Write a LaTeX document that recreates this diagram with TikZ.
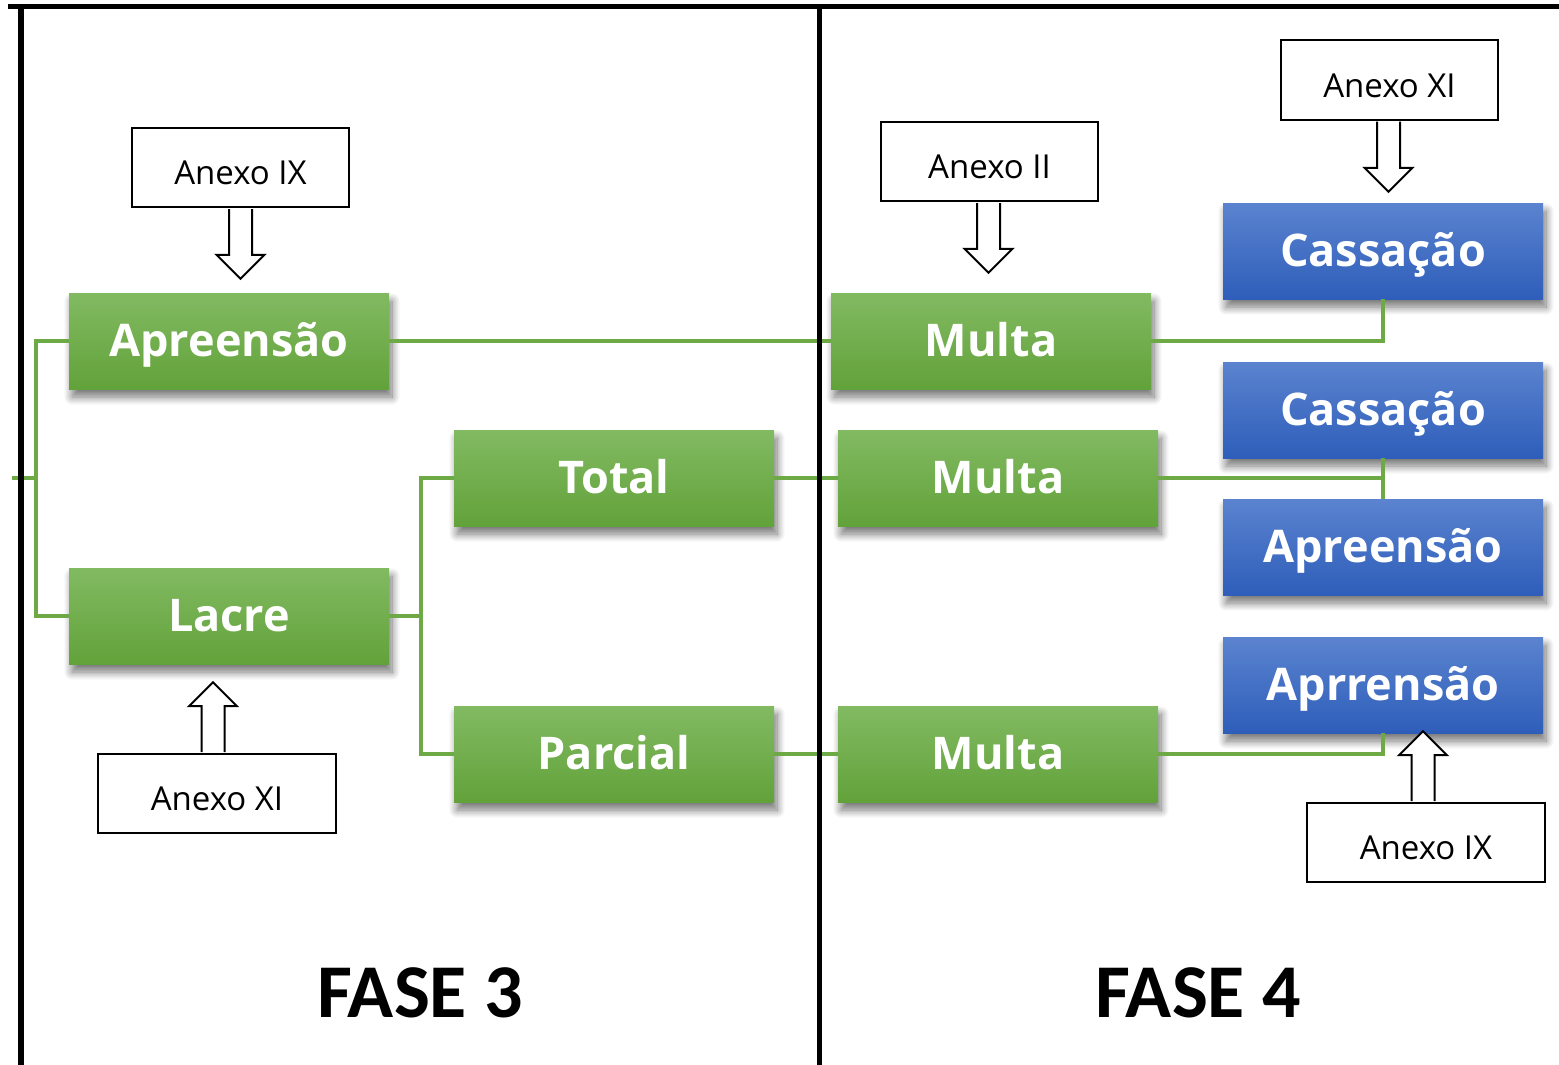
\documentclass[tikz,border=0pt]{standalone}
\usepackage{fontspec}
\setmainfont{Open Sans}
\newfontfamily\fasefont{Carlito}
\usetikzlibrary{calc,shadows.blur}

\definecolor{greentop}{HTML}{82BA62}
\definecolor{greenbot}{HTML}{62A23A}
\definecolor{bluetop}{HTML}{5B83CF}
\definecolor{bluebot}{HTML}{2E5EBA}
\definecolor{linkgreen}{HTML}{6DAA45}

\tikzset{
	box/.style={minimum width=320pt, minimum height=96pt, inner sep=0pt, text=white,
		text height=34pt, text depth=4pt,
		font=\fontsize{45}{50}\selectfont\bfseries,
		blur shadow={shadow xshift=3pt, shadow yshift=-8pt, shadow blur radius=8pt,
			shadow blur steps=12, shadow opacity=55}},
	greenbox/.style={box, top color=greentop, bottom color=greenbot},
	bluebox/.style={box, top color=bluetop, bottom color=bluebot},
	anexo/.style={draw, line width=2pt, fill=white, minimum width=217pt, minimum height=79pt,
		inner sep=0pt, text height=34pt, text depth=0pt, font=\fontsize{33}{38}\selectfont},
	link/.style={draw=linkgreen, line width=4pt},
	hollow/.style={draw, line width=2pt, fill=white, line join=miter},
	fase/.style={font=\fasefont\fontsize{76}{80}\selectfont\bfseries},
}

% seta vazada: #1 base, #2 ponta, #3 = 1 para baixo, -1 para cima
\newcommand{\hollowarrow}[3]{%
	\path[hollow] let \p1=(#1), \p2=(#2) in
		(\x1-11.5pt,\y1) -- (\x1-11.5pt,{\y2+(#3)*24pt}) -- (\x1-24pt,{\y2+(#3)*24pt})
		-- (\x1,\y2) -- (\x1+24pt,{\y2+(#3)*24pt}) -- (\x1+11.5pt,{\y2+(#3)*24pt}) -- (\x1+11.5pt,\y1);}

\begin{document}
\begin{tikzpicture}[x=1pt, y=-1pt]
	\useasboundingbox (0,0) rectangle (1559,1065);

	% fase 3
	\node [greenbox] (apreensao) at ( 229, 341 ) {Apreensão};
	\node [greenbox] (lacre)     at ( 229, 616 ) {Lacre};
	\node [greenbox] (total)     at ( 614, 478 ) {Total};
	\node [greenbox] (parcial)   at ( 614, 754 ) {Parcial};

	% fase 4
	\node [greenbox] (multaA) at (  991, 341 ) {Multa};
	\node [greenbox] (multaB) at (  998, 478 ) {Multa};
	\node [greenbox] (multaC) at (  998, 754 ) {Multa};
	\node [bluebox] (cassA) at ( 1383, 251 ) {Cassação};
	\node [bluebox] (cassB) at ( 1383, 410 ) {Cassação};
	\node [bluebox] (apreB) at ( 1383, 547 ) {Apreensão};
	\node [bluebox] (aprrC) at ( 1383, 685 ) {Aprrensão};

	% anexos
	\node [anexo] (anexoA) at (  240.5, 167.5 ) {Anexo IX};
	\node [anexo, minimum width=238pt] (anexoB) at (  217, 793.5 ) {Anexo XI};
	\node [anexo] (anexoC) at (  989.5, 161.5 ) {Anexo II};
	\node [anexo] (anexoD) at ( 1389.5,  80 ) {Anexo XI};
	\node [anexo, minimum width=238pt] (anexoE) at ( 1426, 842.5 ) {Anexo IX};

	\hollowarrow{$(anexoA.south)+(0,1)$}{$(anexoA.south |- apreensao.north)+(0,-14)$}{1}
	\hollowarrow{$(anexoB.north)+(-4,-1)$}{$(anexoB.north |- lacre.south)+(-4,18)$}{-1}
	\hollowarrow{$(anexoC.south)+(-1,1)$}{$(anexoC.south |- multaA.north)+(-1,-20)$}{1}
	\hollowarrow{$(anexoD.south)+(-1,1)$}{$(anexoD.south |- cassA.north)+(-1,-11)$}{1}
	\hollowarrow{$(anexoE.north)+(-3,-1)$}{$(anexoE.north |- aprrC.south)+(-3,-2)$}{-1}

	% ligacoes
	\coordinate (root)  at ( 12, 478 );
	\coordinate (forkA) at ( 36, 478 );
	\coordinate (forkB) at ( 421, 616 );
	\draw [link] (root) -- (forkA);
	\draw [link] (apreensao.west) -| (forkA) |- (lacre.west);
	\draw [link] (lacre.east) -- (forkB);
	\draw [link] (total.west) -| (forkB) |- (parcial.west);
	\draw [link] (apreensao.east) -- (multaA.west);
	\draw [link] (total.east) -- (multaB.west);
	\draw [link] (parcial.east) -- (multaC.west);
	\draw [link] (multaA.east) -| (cassA.south);
	\draw [link] (multaB.east) -| (cassB.south);
	\draw [link] (cassB.south) -- (apreB.north);
	\draw [link] (multaC.east) -| (aprrC.south);

	% titulos
	\node [fase] (fase3) at (  420, 993 ) {FASE 3};
	\node [fase] (fase4) at ( 1198, 993 ) {FASE 4};

	% moldura
	\draw [line width=5pt] (8,7) -- (1559,7);
	\draw [line width=6pt] (20.5,5) -- (20.5,1065);
	\draw [line width=5pt] (819,5) -- (819,1065);
\end{tikzpicture}
\end{document}
